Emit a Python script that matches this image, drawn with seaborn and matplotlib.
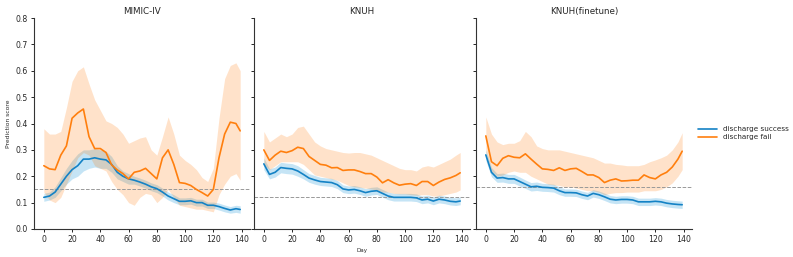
import numpy as np
import pandas as pd
import matplotlib
matplotlib.use("Agg")
import matplotlib.pyplot as plt
import seaborn as sns

days = [0, 4, 8, 12, 16, 20, 24, 28, 32, 36, 40, 44, 48, 52, 56, 60, 64, 68, 72,
        76, 80, 84, 88, 92, 96, 100, 104, 108, 112, 116, 120, 124, 128, 132, 136, 139]

titles = ["MIMIC-IV", "KNUH", "KNUH(finetune)"]
thresholds = [0.15, 0.12, 0.16]
groups = ["discharge success", "discharge fail"]

# MIMIC-IV
mimic_success = [.12, .125, .14, .17, .20, .225, .24, .265, .265, .27, .265, .262, .245, .215, .20, .19,
                 .185, .178, .17, .16, .153, .14, .125, .115, .105, .105, .107, .10, .10, .09, .09,
                 .085, .078, .072, .077, .074]
mimic_success_lo = [.105, .11, .12, .145, .17, .19, .20, .22, .23, .235, .23, .23, .215, .19, .18, .17,
                    .17, .163, .155, .145, .138, .125, .11, .10, .092, .092, .094, .087, .087, .078, .078,
                    .072, .065, .06, .063, .06]
mimic_success_hi = [.135, .14, .16, .195, .23, .26, .285, .30, .30, .305, .30, .295, .275, .24, .22, .21,
                    .20, .193, .185, .175, .168, .155, .14, .13, .118, .118, .12, .113, .113, .102, .102,
                    .098, .091, .085, .09, .088]
mimic_fail = [.24, .228, .225, .28, .315, .42, .44, .455, .35, .305, .305, .29, .243, .224, .21, .19,
              .215, .22, .23, .21, .19, .27, .30, .245, .176, .173, .165, .15, .138, .125, .15,
              .27, .36, .405, .40, .372]
mimic_fail_lo = [.14, .11, .10, .12, .17, .22, .27, .29, .28, .24, .23, .22, .18, .15, .13, .10,
                 .09, .12, .135, .13, .10, .12, .15, .12, .09, .085, .08, .075, .075, .07, .065,
                 .13, .17, .20, .21, .185]
mimic_fail_hi = [.38, .36, .36, .37, .46, .56, .60, .615, .55, .49, .45, .41, .40, .385, .36, .325,
                 .335, .345, .35, .30, .28, .35, .425, .36, .28, .26, .245, .225, .195, .18, .23,
                 .42, .57, .62, .63, .60]

# KNUH
knuh_success = [.247, .207, .215, .233, .23, .228, .22, .207, .193, .186, .18, .178, .176, .168, .152, .148,
                .15, .145, .138, .143, .145, .135, .125, .12, .12, .12, .12, .118, .11, .113, .106,
                .113, .11, .105, .103, .106]
knuh_success_lo = [.225, .19, .197, .213, .21, .208, .20, .19, .177, .17, .165, .163, .161, .153, .138, .134,
                   .136, .131, .124, .129, .131, .121, .111, .106, .106, .106, .106, .104, .096, .099, .092,
                   .099, .096, .091, .089, .092]
knuh_success_hi = [.27, .228, .235, .253, .25, .248, .24, .225, .21, .203, .196, .194, .192, .184, .167, .163,
                   .165, .16, .153, .158, .16, .15, .14, .135, .135, .135, .135, .133, .125, .128, .121,
                   .128, .125, .12, .118, .121]
knuh_fail = [.30, .26, .28, .295, .29, .297, .31, .305, .275, .26, .245, .242, .232, .233, .222, .224,
             .224, .218, .21, .21, .197, .175, .187, .175, .166, .17, .172, .165, .18, .18, .165,
             .178, .188, .194, .203, .213]
knuh_fail_lo = [.245, .225, .24, .255, .255, .255, .255, .245, .225, .205, .20, .195, .19, .185, .175, .165,
                .16, .158, .155, .152, .148, .14, .14, .135, .133, .133, .13, .128, .13, .13, .125,
                .125, .13, .135, .14, .148]
knuh_fail_hi = [.37, .33, .345, .36, .35, .36, .385, .39, .36, .33, .315, .305, .30, .295, .29, .288,
                .29, .29, .285, .28, .27, .26, .25, .24, .23, .225, .225, .22, .235, .24, .235,
                .245, .255, .265, .28, .29]

# KNUH (finetune)
fine_success = [.281, .215, .193, .195, .19, .19, .18, .17, .16, .162, .158, .157, .155, .145, .138, .138,
                .137, .13, .125, .135, .13, .122, .113, .11, .112, .112, .11, .103, .103, .103, .105,
                .103, .098, .095, .093, .092]
fine_success_lo = [.26, .198, .177, .178, .173, .173, .163, .154, .144, .146, .143, .142, .14, .13, .124, .124,
                   .123, .116, .111, .121, .116, .108, .099, .096, .098, .098, .096, .089, .089, .089, .091,
                   .089, .084, .081, .079, .078]
fine_success_hi = [.30, .233, .21, .212, .207, .207, .197, .186, .176, .178, .173, .172, .17, .16, .152, .152,
                   .151, .144, .139, .149, .144, .136, .127, .124, .126, .126, .124, .117, .117, .117, .119,
                   .117, .112, .109, .107, .106]
fine_fail = [.353, .255, .24, .268, .278, .272, .27, .285, .265, .246, .228, .226, .222, .232, .222, .228,
             .23, .218, .205, .205, .195, .176, .185, .19, .182, .183, .185, .185, .205, .195, .19,
             .205, .215, .235, .265, .295]
fine_fail_lo = [.29, .22, .20, .205, .215, .22, .215, .215, .20, .19, .18, .17, .167, .165, .16, .16,
                .155, .15, .145, .145, .14, .13, .135, .138, .138, .14, .14, .14, .145, .145, .145,
                .15, .16, .175, .20, .225]
fine_fail_hi = [.425, .36, .33, .32, .325, .325, .335, .37, .35, .315, .305, .30, .30, .30, .295, .29,
                .285, .28, .275, .27, .26, .25, .25, .245, .243, .24, .24, .24, .245, .255, .262,
                .27, .28, .30, .33, .365]

panels = [
    (mimic_success, mimic_success_lo, mimic_success_hi, mimic_fail, mimic_fail_lo, mimic_fail_hi),
    (knuh_success, knuh_success_lo, knuh_success_hi, knuh_fail, knuh_fail_lo, knuh_fail_hi),
    (fine_success, fine_success_lo, fine_success_hi, fine_fail, fine_fail_lo, fine_fail_hi),
]

sns.set_style("ticks")
plt.rcParams['font.family'] = ['DejaVu Sans']

BLUE = "#1482c5"
ORANGE = "#ff7f0e"
palette = {groups[0]: BLUE, groups[1]: ORANGE}

fig = plt.figure(figsize=(7.93, 2.57), dpi=100)
W, H = 793, 257
lefts = [34, 254, 476]
axes = []
for i, lx in enumerate(lefts):
    ax = fig.add_axes([lx / W, 28 / H, 216 / W, 211 / H])
    axes.append(ax)

for i, ax in enumerate(axes):
    s, slo, shi, f, flo, fhi = panels[i]
    ax.fill_between(days, slo, shi, color="#5ab4e5", alpha=0.35, lw=0, zorder=1)
    ax.fill_between(days, flo, fhi, color=ORANGE, alpha=0.22, lw=0, zorder=1)
    df = pd.DataFrame({
        "Day": days + days,
        "score": s + f,
        "group": [groups[0]] * len(days) + [groups[1]] * len(days),
    })
    sns.lineplot(data=df, x="Day", y="score", hue="group", palette=palette,
                 ax=ax, lw=1.2, legend=(i == 2), zorder=3)
    ax.axhline(thresholds[i], color="#999999", ls="--", lw=0.7, zorder=2)
    ax.set_ylim(0, 0.8)
    ax.set_xlim(-6.95, 145.95)
    ax.set_xticks([0, 20, 40, 60, 80, 100, 120, 140])
    ax.set_yticks(np.arange(0, 0.81, 0.1))
    ax.set_title(titles[i], fontsize=6.3, pad=3)
    ax.tick_params(labelsize=5.6, length=2.5, width=0.7, pad=2)
    for sp in ["left", "bottom"]:
        ax.spines[sp].set_linewidth(0.8)
        ax.spines[sp].set_color("#333333")
    sns.despine(ax=ax)
    ax.set_xlabel("")
    ax.set_ylabel("")
    if i == 0:
        ax.set_ylabel("Prediction score", fontsize=4.3, labelpad=3)
        ax.set_yticklabels([f"{v:.1f}" for v in np.arange(0, 0.81, 0.1)])
    else:
        ax.set_yticklabels([])
    if i == 1:
        ax.set_xlabel("Day", fontsize=4.0, labelpad=3)

leg = axes[2].get_legend()
handles, labels = axes[2].get_legend_handles_labels()
leg.remove()
fig.legend(handles, labels, loc="center left", bbox_to_anchor=(0.872, 0.482),
           frameon=False, fontsize=5.2, handlelength=2.6, handletextpad=0.8,
           labelspacing=0.3)

fig.savefig("out.png", dpi=100)
